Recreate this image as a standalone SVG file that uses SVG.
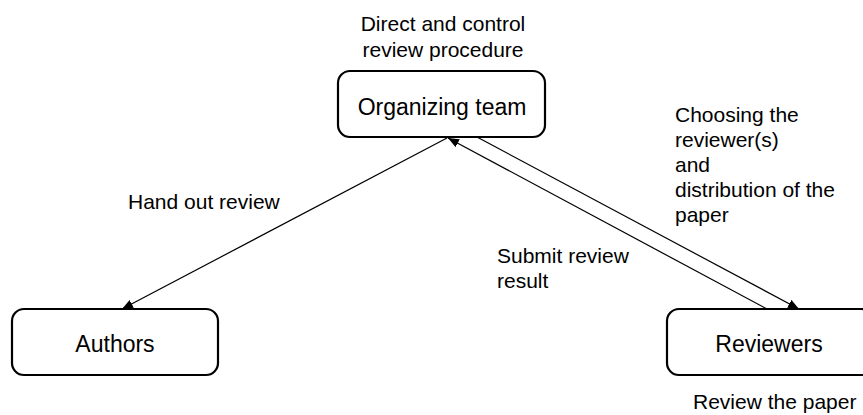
<svg xmlns="http://www.w3.org/2000/svg" width="863" height="415" viewBox="0 0 863 415">
<style>
.box{fill:#fff;stroke:#000;stroke-width:2.2}
.nt{font-family:"Liberation Sans",Arial,sans-serif;font-size:23px;fill:#000;text-anchor:middle}
.lb{font-family:"Liberation Sans",Arial,sans-serif;font-size:21px;fill:#000}
.ln{stroke:#000;stroke-width:1.2;fill:none;marker-end:url(#ah)}
</style>
<defs>
<marker id="ah" markerUnits="userSpaceOnUse" markerWidth="12" markerHeight="10" refX="11" refY="4.5" orient="auto">
<path d="M0,0 L11,4.5 L0,9 z" fill="#000"/>
</marker>
</defs>
<rect width="863" height="415" fill="#fff"/>
<g id="connectors">
<line class="ln" x1="447" y1="138" x2="122" y2="309"/>
<line class="ln" x1="767" y1="309" x2="448" y2="138"/>
<line class="ln" x1="477" y1="137" x2="799" y2="309"/>
</g>
<g id="organizing-team">
<rect class="box" x="338" y="71" width="207" height="66" rx="12"/>
<text class="nt" x="442" y="115">Organizing team</text>
</g>
<g id="authors">
<rect class="box" x="12" y="309" width="206" height="66" rx="12"/>
<text class="nt" x="115" y="352">Authors</text>
</g>
<g id="reviewers">
<rect class="box" x="667" y="309" width="206" height="66" rx="12"/>
<text class="nt" x="769" y="352">Reviewers</text>
</g>
<g id="labels">
<text class="lb" text-anchor="middle" x="443" y="31">Direct and control</text>
<text class="lb" text-anchor="middle" x="443" y="57">review procedure</text>
<text class="lb" x="675" y="122">Choosing the</text>
<text class="lb" x="675" y="147">reviewer(s)</text>
<text class="lb" x="675" y="172">and</text>
<text class="lb" x="675" y="197">distribution of the</text>
<text class="lb" x="675" y="222">paper</text>
<text class="lb" x="497" y="263">Submit review</text>
<text class="lb" x="497" y="288">result</text>
<text class="lb" x="128" y="209">Hand out review</text>
<text class="lb" x="693" y="409">Review the paper</text>
</g>
</svg>
